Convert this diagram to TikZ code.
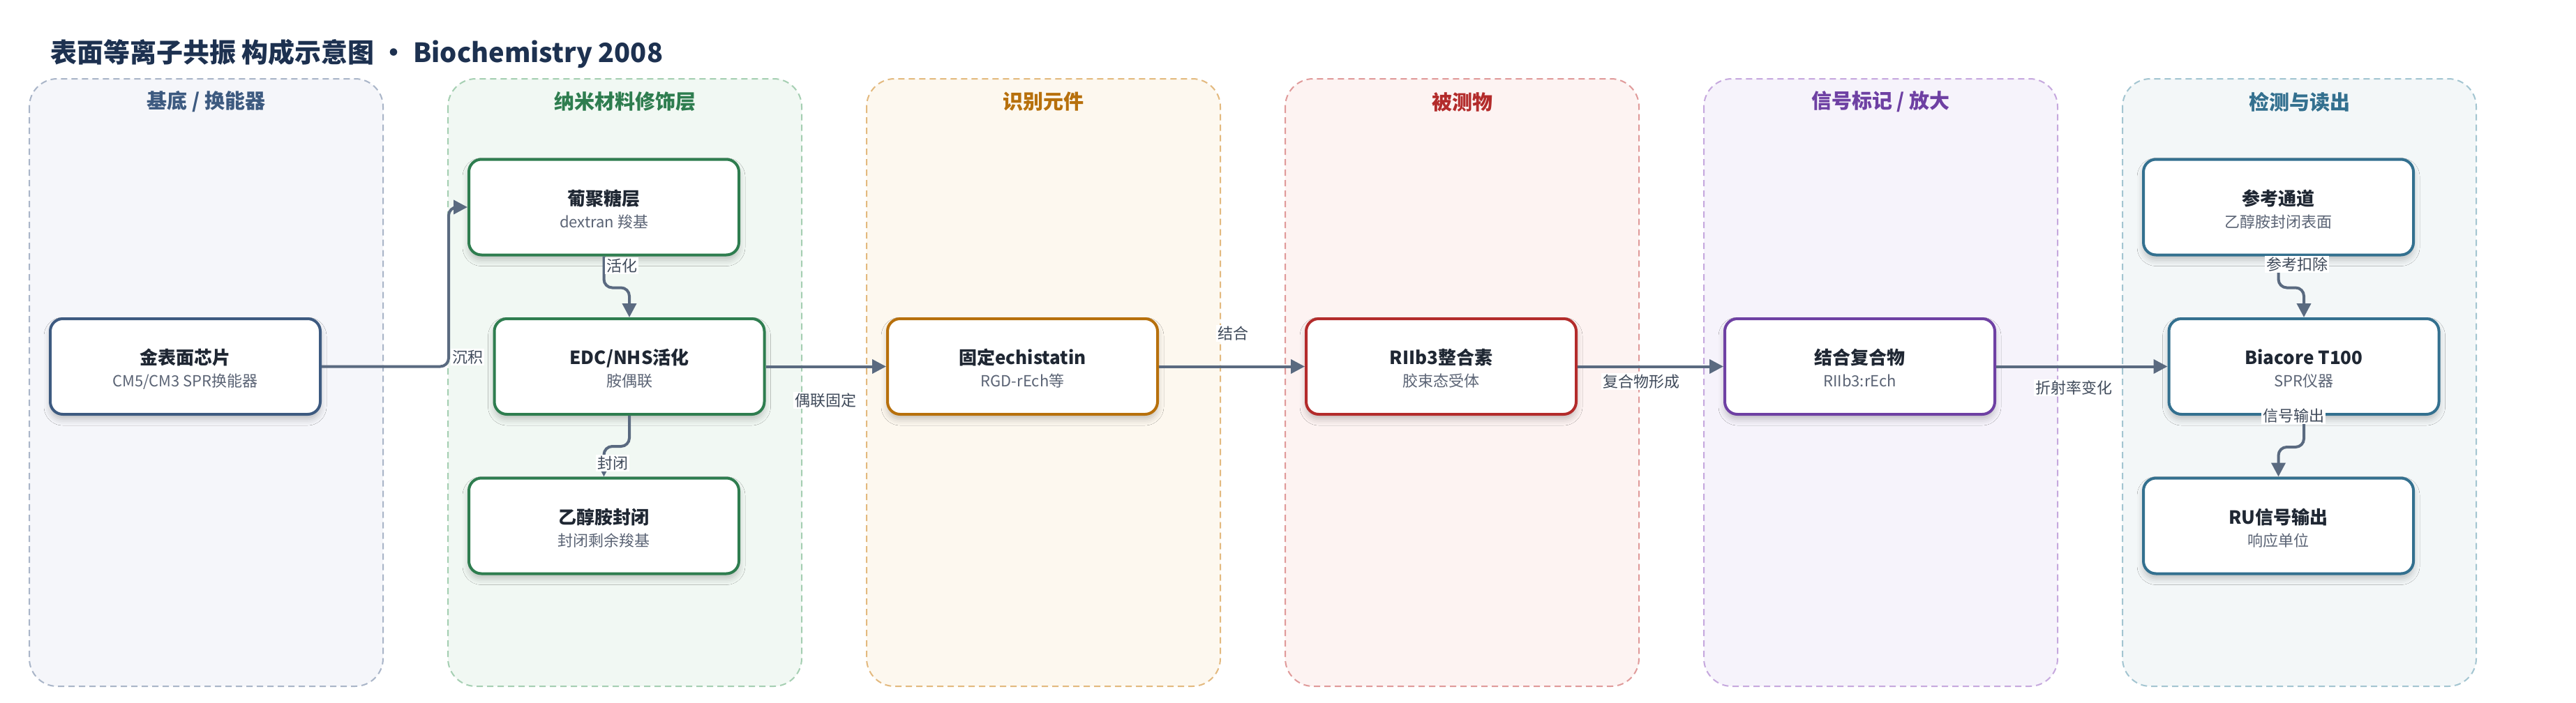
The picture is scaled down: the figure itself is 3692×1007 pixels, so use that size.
\documentclass[tikz,border=0pt]{standalone}
\usepackage{fontspec}
\setmainfont{Noto Sans CJK SC}
\usetikzlibrary{arrows.meta,shadows.blur,calc}
\definecolor{cTitle}{HTML}{1D3150}
\definecolor{cNode}{HTML}{1F2733}
\definecolor{cSub}{HTML}{5B6475}
\definecolor{cLab}{HTML}{3F4A5A}
\definecolor{cArrow}{HTML}{5A6A80}
\definecolor{hA}{HTML}{3D5A80}\definecolor{sA}{HTML}{A9B5C8}\definecolor{fA}{HTML}{F5F6FA}
\definecolor{hB}{HTML}{2E7D4F}\definecolor{sB}{HTML}{A5CFB2}\definecolor{fB}{HTML}{F1F8F3}
\definecolor{hC}{HTML}{B7700C}\definecolor{sC}{HTML}{E3B97E}\definecolor{fC}{HTML}{FDF8EF}
\definecolor{hD}{HTML}{B32B2B}\definecolor{sD}{HTML}{E09A9A}\definecolor{fD}{HTML}{FDF3F2}
\definecolor{hE}{HTML}{6E40A3}\definecolor{sE}{HTML}{C6A8DE}\definecolor{fE}{HTML}{F6F3FB}
\definecolor{hF}{HTML}{33708F}\definecolor{sF}{HTML}{A3C5D1}\definecolor{fF}{HTML}{F3F7F8}
\tikzset{
  lanebox/.style 2 args={draw=#1, fill=#2, line width=2pt, dash pattern=on 9pt off 6pt, rounded corners=40pt},
  hdr/.style={font=\fontsize{29}{34}\selectfont\bfseries, text=#1, inner sep=0pt},
  card/.style={draw=#1, fill=white, line width=4pt, rounded corners=18pt,
    minimum width=387pt, minimum height=137pt, inner sep=0pt,
    blur shadow={shadow xshift=0pt, shadow yshift=-7pt, shadow blur radius=9pt, shadow opacity=22}},
  ttl/.style={font=\fontsize{26}{30}\selectfont\bfseries, text=cNode, inner sep=0pt, text height=23pt, text depth=3pt},
  subt/.style={font=\fontsize{22}{26}\selectfont, text=cSub, inner sep=0pt, text height=19pt, text depth=3pt},
  elab/.style={font=\fontsize{22}{26}\selectfont, text=cLab, fill=white, inner sep=2pt},
  arr/.style={draw=cArrow, line width=4pt, -{Triangle[length=20pt,width=20pt]}, rounded corners=12pt},
}
\newcommand{\cardnode}[6]{%
  \node[card=#4] (#1) at (#2,#3) {};
  \node[ttl] (#1t) at ($(#1.center)+(0,-13)$) {#5};
  \node[subt] (#1s) at ($(#1.center)+(0,21)$) {#6};
}
\begin{document}
\begin{tikzpicture}[x=1pt,y=-1pt]
\useasboundingbox[fill=white] (0,0) rectangle (3692,1007);
% title
\node[anchor=west, font=\fontsize{38}{44}\selectfont\bfseries, text=cTitle, inner sep=0pt] (title) at (72,77) {表面等离子共振 构成示意图 · Biochemistry 2008};
% lanes
\draw[lanebox={sA}{fA}] (42,113) rectangle (549,984);
\draw[lanebox={sB}{fB}] (642,113) rectangle (1149,984);
\draw[lanebox={sC}{fC}] (1242,113) rectangle (1749,984);
\draw[lanebox={sD}{fD}] (1842,113) rectangle (2349,984);
\draw[lanebox={sE}{fE}] (2442,113) rectangle (2949,984);
\draw[lanebox={sF}{fF}] (3042,113) rectangle (3549,984);
\node[hdr=hA] (hdrA) at (295.5,146) {基底 / 换能器};
\node[hdr=hB] (hdrB) at (895.5,146) {纳米材料修饰层};
\node[hdr=hC] (hdrC) at (1495.5,146) {识别元件};
\node[hdr=hD] (hdrD) at (2095.5,146) {被测物};
\node[hdr=hE] (hdrE) at (2695.5,146) {信号标记 / 放大};
\node[hdr=hF] (hdrF) at (3295.5,146) {检测与读出};
% cards
\cardnode{chip}{265.5}{525.5}{hA}{金表面芯片}{CM5/CM3 SPR换能器}
\cardnode{dex}{865.5}{297}{hB}{葡聚糖层}{dextran 羧基}
\cardnode{edc}{902}{525.5}{hB}{EDC/NHS活化}{胺偶联}
\cardnode{eth}{865.5}{754}{hB}{乙醇胺封闭}{封闭剩余羧基}
\cardnode{ech}{1465.5}{525.5}{hC}{固定echistatin}{RGD-rEch等}
\cardnode{rii}{2065.5}{525.5}{hD}{RIIb3整合素}{胶束态受体}
\cardnode{cpx}{2665.5}{525.5}{hE}{结合复合物}{RIIb3:rEch}
\cardnode{ref}{3265.5}{297}{hF}{参考通道}{乙醇胺封闭表面}
\cardnode{bia}{3302}{525.5}{hF}{Biacore T100}{SPR仪器}
\cardnode{ru}{3265.5}{754}{hF}{RU信号输出}{响应单位}
% connectors
\draw[arr] (chip.east) -- (643,525.5) |- (dex.west);
\draw[arr] (dex.south) -- ++(0,45) -| (edc.north);
\draw[arr] (edc.south) -- ++(0,44) -| (eth.north);
\draw[arr] (edc.east) -- (ech.west);
\draw[arr] (ech.east) -- (rii.west);
\draw[arr] (rii.east) -- (cpx.west);
\draw[arr] (cpx.east) -- (bia.west);
\draw[arr] (ref.south) -- ++(0,45) -| (bia.north);
\draw[arr] (bia.south) -- ++(0,45) -| (ru.north);
% connector labels
\node[elab] (l1) at (670,512) {沉积};
\node[elab] (l2) at (891,381) {活化};
\node[elab] (l3) at (878,664) {封闭};
\node[elab] (l4) at (1183,574) {偶联固定};
\node[elab] (l5) at (1767,478) {结合};
\node[elab] (l6) at (2352,547) {复合物形成};
\node[elab] (l7) at (2972,556) {折射率变化};
\node[elab] (l8) at (3292,379) {参考扣除};
\node[elab] (l9) at (3287,596) {信号输出};
\end{tikzpicture}
\end{document}
